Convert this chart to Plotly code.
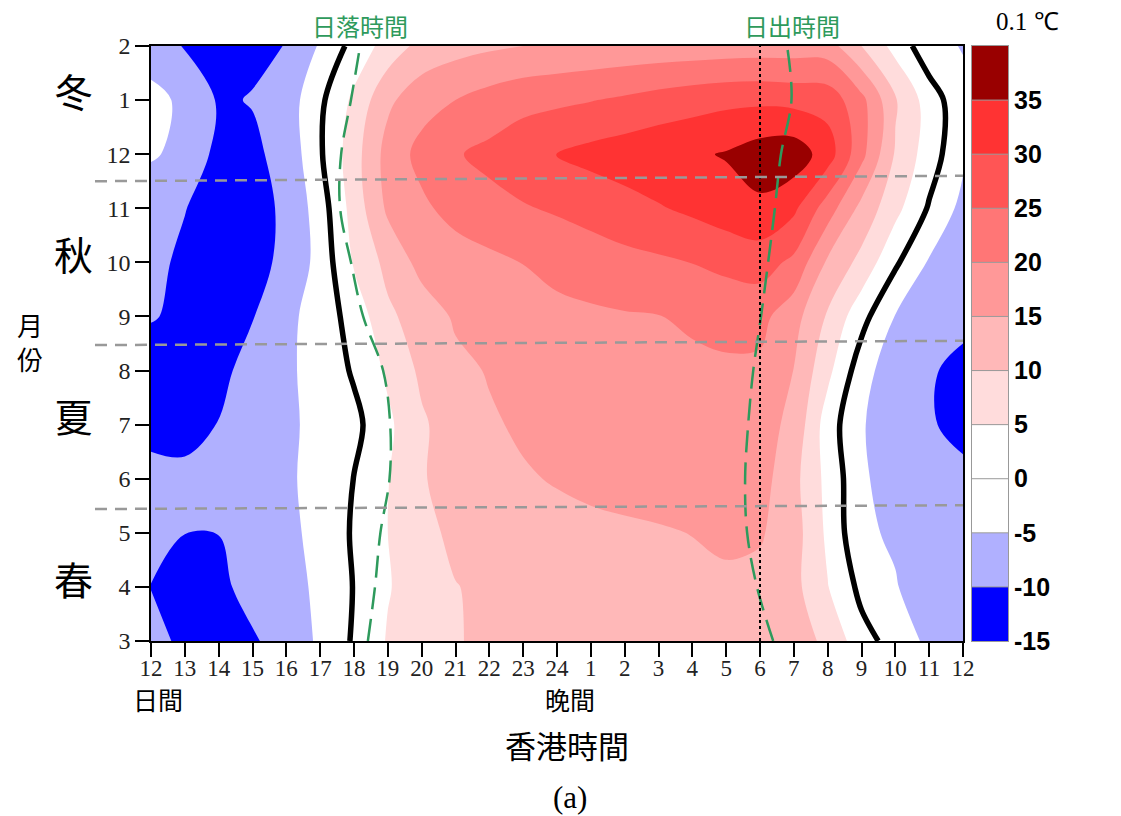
import plotly.graph_objects as go

# ---------------- data ----------------
hours = list(range(25))  # hours after local noon
hour_labels = ['12', '13', '14', '15', '16', '17', '18', '19', '20', '21', '22', '23', '24',
               '1', '2', '3', '4', '5', '6', '7', '8', '9', '10', '11', '12']
months = list(range(12))
month_labels = ['3', '4', '5', '6', '7', '8', '9', '10', '11', '12', '1', '2']

# temperature anomaly (0.1 degC), one row per month, one value per hour (12 noon .. 12 noon)
mar = [-8.5, -11, -12, -10.5, -8.2, -4.15, 0.57, 5.4, 7.5, 9.6, 11.2, 12, 12.5, 13, 13, 13, 13, 13, 12.8, 11.5, 9.3, 1.75, -1.8, -6.2, -7]
apr = [-10.1, -11.8, -11, -8.5, -6.5, -4.2, 0.2, 4.7, 7.3, 9.8, 11.2, 12, 12.5, 13, 13.3, 13.6, 13.8, 14, 13.6, 11.5, 5.2, -1.3, -4.6, -8.5, -10]
may = [-8.5, -9.95, -9.95, -9, -6, -3.8, 0.6, 5.0, 8.0, 11.5, 12.5, 13.2, 13.7, 14, 14.3, 14.6, 15.1, 16, 15.5, 12.2, 4.0, -4, -5.8, -8, -9]
jun = [-8.5, -9.3, -9.5, -9, -5.8, -3.3, 0.1, 4.8, 9.6, 12, 13.3, 14.6, 15.3, 16, 16.5, 17, 17.5, 17.5, 17, 11.5, 3.5, -4, -8, -9, -9]
jul = [-11.5, -11, -9.9, -8, -5.5, -4.25, -1.45, 4.0, 9.3, 12.5, 14.5, 15.6, 16.5, 17, 17.5, 18, 18, 18, 17, 13.7, 2.5, -4.5, -8.5, -9.6, -11.2]
aug = [-13, -12.5, -11, -8.6, -5.6, -3.7, 0.65, 5.9, 11, 13.9, 15.3, 16.5, 17.5, 18, 18.5, 19, 19.3, 19.5, 19, 14.9, 6.3, -2.7, -8.5, -9.6, -11]
sep = [-9.6, -11.2, -11.8, -10.2, -6.4, -2.6, 1.8, 9.0, 12.4, 15.6, 17, 18, 18.7, 19.2, 19.6, 19.9, 20.5, 21, 21.5, 16.9, 9.4, 1.7, -5.2, -8, -9]
oct_ = [-9.2, -10.6, -11.5, -11.4, -9.0, -3.3, 5.5, 11.5, 16.6, 17.5, 18.8, 20.1, 21.5, 22.5, 23.5, 24.2, 25.1, 26.5, 27.2, 23.9, 14.2, 8.5, 0.8, -5.5, -8]
nov = [-8, -9.9, -11.5, -11, -9.5, -2.5, 7.1, 15.9, 19, 21.8, 23.5, 24.6, 25.6, 26.8, 28.2, 29.6, 31, 32.5, 34, 31, 22.5, 13.5, 6.5, -0.5, -6.5]
dec = [-4.5, -6.2, -11.5, -10.8, -8.6, -0.6, 7.9, 16.9, 21.6, 24.6, 26.2, 28, 30.2, 31.5, 32.5, 33.5, 34.2, 35.4, 37.5, 38, 32.5, 21.5, 9.5, 2.5, -4]
jan = [-3.5, -6, -10.5, -9.8, -7.7, -1.0, 6.1, 14, 18, 20, 22, 23.5, 24, 24.8, 25.8, 27, 28, 28.8, 29, 28.5, 28, 21.5, 10.5, 2.6, -3.5]
feb = [-7.5, -10.3, -11.5, -10.8, -9.9, -4.46, 1.65, 7.05, 11.6, 13.2, 14.2, 15.0, 15.8, 16.2, 16.5, 16.8, 17, 17.3, 17.5, 17.5, 17.3, 10, 3.3, -3.3, -5.3]
z = [mar, apr, may, jun, jul, aug, sep, oct_, nov, dec, jan, feb]

# sunset / sunrise (hours after noon) per month
sunset = [6.41, 6.62, 6.78, 7.05, 7.07, 6.86, 6.27, 5.91, 5.59, 5.62, 5.91, 6.18]
sunrise = [18.39, 17.91, 17.62, 17.56, 17.65, 17.8, 18.03, 18.24, 18.44, 18.62, 18.93, 18.8]
dawn_line_hour = 18  # 6 o'clock

# season boundaries (month axis) at left and right edges, season labels
season_left = [2.44, 5.47, 8.5]
season_right = [2.51, 5.55, 8.6]
season_names = ['春', '夏', '秋', '冬']
season_pos = [1.16, 4.18, 7.17, 10.18]

levels = [-15, -10, -5, 0, 5, 10, 15, 20, 25, 30, 35]
band_mids = [-12.5, -7.5, -2.5, 2.5, 7.5, 12.5, 17.5, 22.5, 27.5, 32.5, 37.5]
band_colors = ['#0000ff', '#0000ff', '#b0b0ff', '#ffffff', '#ffffff', '#ffdcdc',
               '#ffb8b8', '#ff9898', '#ff7676', '#ff5555', '#ff3333', '#990000']

# ---------------- figure ----------------
W, H = 1121, 816
L, R, T, B = 151, 111, 46, 175
PW, PH = W - L - R, H - T - B


def px(x):
    return (x - L) / PW


def py(y):
    return (H - B - y) / PH


colorscale = [[k / 11, c] for k, c in enumerate(band_colors)]
serif = 'Liberation Serif'
cjk = 'Noto Sans CJK TC'
green = '#2e9a5c'

fig = go.Figure()

fig.add_trace(go.Contour(
    x=hours, y=months, z=z,
    autocontour=False,
    contours=dict(start=levels[0], end=levels[-1], size=5, coloring='fill'),
    colorscale=colorscale, showscale=False,
    line=dict(width=0, smoothing=1.0, color='rgba(0,0,0,0)'),
    hoverinfo='skip'))

fig.add_trace(go.Contour(
    x=hours, y=months, z=z,
    autocontour=False,
    contours=dict(start=0, end=0, size=5, coloring='none'),
    showscale=False,
    line=dict(width=5.5, smoothing=1.0, color='black'),
    hoverinfo='skip'))

fig.add_trace(go.Scatter(x=sunset, y=months, mode='lines',
                         line=dict(color=green, width=2.5, dash='22px,10px', shape='spline'),
                         hoverinfo='skip', showlegend=False))
fig.add_trace(go.Scatter(x=sunrise, y=months, mode='lines',
                         line=dict(color=green, width=2.5, dash='22px,10px', shape='spline'),
                         hoverinfo='skip', showlegend=False))
fig.add_trace(go.Scatter(x=[dawn_line_hour, dawn_line_hour], y=[months[0], months[-1]], mode='lines',
                         line=dict(color='black', width=2, dash='dot'),
                         hoverinfo='skip', showlegend=False))

# colour bar drawn as its own heatmap
fig.add_trace(go.Heatmap(x=[0], y=band_mids, z=[[m] for m in band_mids],
                         zmin=-17.5, zmax=37.5, colorscale=colorscale, showscale=False,
                         xaxis='x2', yaxis='y2', hoverinfo='skip'))

shapes = []
for a, b in zip(season_left, season_right):
    shapes.append(dict(type='line', xref='paper', yref='y', x0=px(95), x1=px(963), y0=a, y1=b,
                       line=dict(color='#999999', width=2.5, dash='12px,8px')))
for lv in levels[1:]:
    shapes.append(dict(type='line', xref='x2 domain', yref='y2', x0=0, x1=1, y0=lv, y1=lv,
                       line=dict(color='#999999', width=1)))


def label(text, x, y, size, family=cjk, color='black', yref='paper'):
    return dict(text=text, xref='paper', yref=yref, x=px(x),
                y=py(y) if yref == 'paper' else y, showarrow=False,
                xanchor='center', yanchor='middle',
                font=dict(family=family, size=size, color=color))


ann = [label(name, 73, yv, 39, yref='y') for name, yv in zip(season_names, season_pos)]
ann += [
    label('月<br>份', 30, 341, 26),
    label('日間', 158, 699, 25),
    label('晚間', 570, 699, 25),
    label('香港時間', 567, 744, 31),
    label('(a)', 570, 797, 31, family=serif),
    label('日落時間', 360, 26, 24, color=green),
    label('日出時間', 792, 26, 24, color=green),
    label('0.1 ℃', 1027, 22, 25, family=serif),
]

fig.update_layout(
    width=W, height=H, autosize=False,
    margin=dict(l=L, r=R, t=T, b=B, pad=0),
    paper_bgcolor='white', plot_bgcolor='white',
    showlegend=False,
    xaxis=dict(domain=[0, px(963)], range=[0, 24], tickvals=hours, ticktext=hour_labels,
               ticks='outside', ticklen=14, tickwidth=1.5, tickcolor='black',
               ticklabelstandoff=-8,
               showline=True, linecolor='black', linewidth=1.5, mirror=True,
               showgrid=False, zeroline=False,
               tickfont=dict(family=serif, size=23, color='#222222')),
    yaxis=dict(domain=[0, 1], range=[0, 11], tickvals=months, ticktext=month_labels,
               ticks='outside', ticklen=14, tickwidth=1.5, tickcolor='black',
               showline=True, linecolor='black', linewidth=1.5, mirror=True,
               showgrid=False, zeroline=False,
               tickfont=dict(family=serif, size=24, color='#222222')),
    xaxis2=dict(domain=[px(972), px(1008)], range=[-0.5, 0.5], anchor='y2',
                showticklabels=False, ticks='', showgrid=False, zeroline=False,
                showline=True, linecolor='#999999', linewidth=1, mirror=True),
    yaxis2=dict(domain=[0, 1], range=[-15, 40], anchor='x2', side='right',
                tickvals=levels, ticktext=[str(v) for v in levels], ticks='',
                showgrid=False, zeroline=False,
                showline=True, linecolor='#999999', linewidth=1, mirror=True,
                tickfont=dict(family='Liberation Sans', size=25, color='black', weight='bold')),
    shapes=shapes, annotations=ann,
)

fig.write_html('out.html')
